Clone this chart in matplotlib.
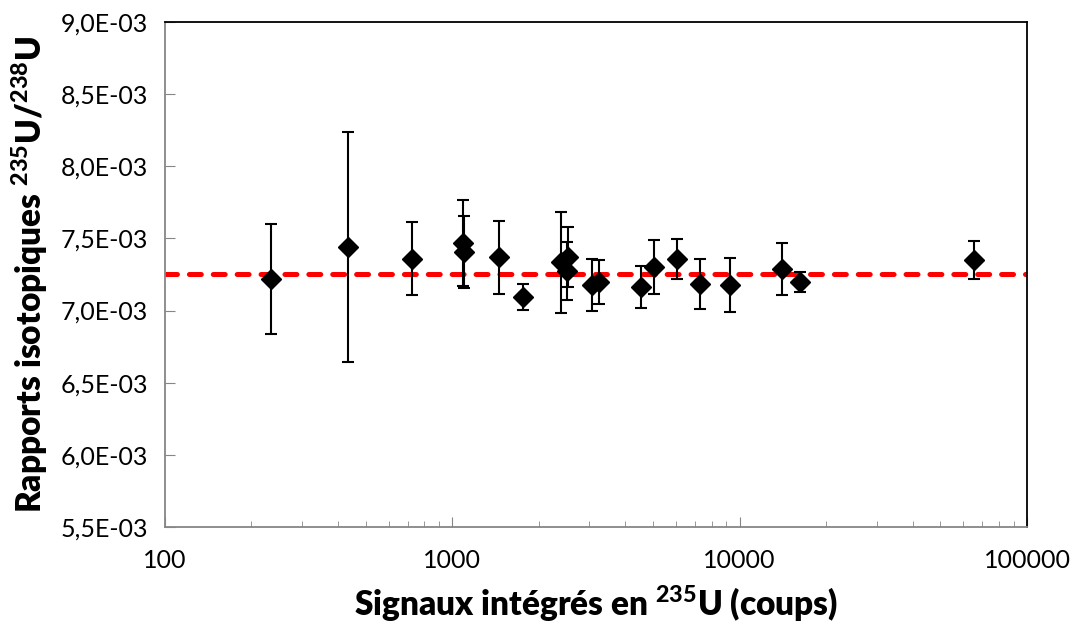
import numpy as np
import matplotlib
matplotlib.use("Agg")
import matplotlib.pyplot as plt
from matplotlib.ticker import FuncFormatter, LogLocator, NullFormatter

#data
signal = [234, 433, 724, 1089, 1095, 1456, 1762, 2389, 2500, 2531,
          3062, 3243, 4539, 5035, 6053, 7281, 9268, 14060, 16220, 65460]
ratio = [7.219, 7.441, 7.358, 7.468, 7.406, 7.371, 7.094, 7.336, 7.274, 7.371,
         7.177, 7.198, 7.164, 7.302, 7.358, 7.184, 7.177, 7.288, 7.198, 7.351]
err = [0.378, 0.795, 0.253, 0.30, 0.25, 0.253, 0.09, 0.35, 0.20, 0.21,
       0.18, 0.15, 0.145, 0.19, 0.14, 0.17, 0.19, 0.18, 0.07, 0.13]
ref_ratio = 7.253
y_ticks = [5.5, 6.0, 6.5, 7.0, 7.5, 8.0, 8.5, 9.0]
x_ticks = [100, 1000, 10000, 100000]

ratio = np.array(ratio) * 1e-3
err = np.array(err) * 1e-3

#fonts
plt.rcParams["font.family"] = ["Lato", "DejaVu Sans"]
plt.rcParams["mathtext.fontset"] = "custom"
plt.rcParams["mathtext.rm"] = "Lato"
plt.rcParams["mathtext.bf"] = "Lato:black"
plt.rcParams["lines.scale_dashes"] = False

fig = plt.figure(figsize=(10.72, 6.26), dpi=100)
ax = fig.add_axes([0.1539, 0.1581, 0.8041, 0.8068])

#reference line
ax.axhline(ref_ratio * 1e-3, color="#ff0000", lw=3.6, dashes=(8.6, 8.6),
           dash_capstyle="round", zorder=1)

#points with error bars
ax.errorbar(signal, ratio, yerr=err, fmt="D", color="black", ms=10.5,
            ecolor="black", elinewidth=1.5, capsize=4.5, capthick=1.5, zorder=3)

ax.set_xscale("log")
ax.set_xlim(100, 100000)
ax.set_ylim(5.5e-3, 9.0e-3)
ax.set_yticks([v * 1e-3 for v in y_ticks])
ax.yaxis.set_major_formatter(FuncFormatter(lambda v, p: ("%.1fE-03" % (v * 1e3)).replace(".", ",")))
ax.set_xticks(x_ticks)
ax.xaxis.set_major_formatter(FuncFormatter(lambda v, p: "%d" % v))
ax.xaxis.set_minor_locator(LogLocator(base=10, subs=np.arange(2, 10)))
ax.xaxis.set_minor_formatter(NullFormatter())

#spines and ticks
for s in ["left", "bottom"]:
    ax.spines[s].set_color("#868686")
    ax.spines[s].set_linewidth(1.3)
for s in ["top", "right"]:
    ax.spines[s].set_color("black")
    ax.spines[s].set_linewidth(1.3)
ax.tick_params(axis="both", which="both", direction="in", color="#868686",
               labelsize=18, colors="#868686", labelcolor="black")
ax.tick_params(axis="y", which="major", length=7, pad=12)
ax.tick_params(axis="x", which="major", length=7, pad=16)
ax.tick_params(axis="x", which="minor", length=4)

ax.set_xlabel(r"Signaux intégrés en $^{\mathbf{235}}$U (coups)", fontsize=24,
              fontweight="heavy", labelpad=8)
ax.set_ylabel(r"Rapports isotopiques $^{\mathbf{235}}$U/$^{\mathbf{238}}$U", fontsize=24,
              fontweight="heavy", labelpad=8)

fig.savefig("out.png", dpi=100)
